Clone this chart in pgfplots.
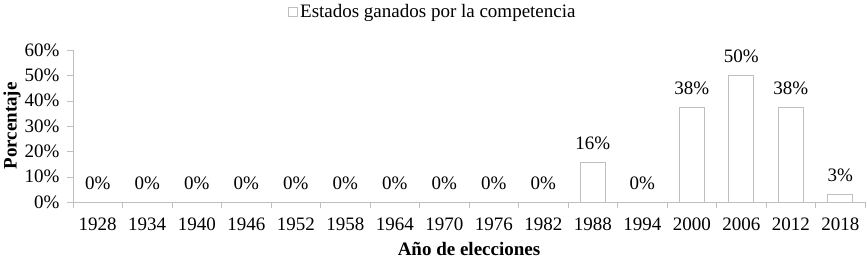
\documentclass[border=0pt]{standalone}
\usepackage{fontspec}
\setmainfont{Liberation Serif}
\usepackage{pgfplots}
\usepackage{pgfplotstable}
\pgfplotsset{compat=1.18}
\definecolor{edge}{RGB}{191,191,191}
\pgfplotstableread{
x y m
0 0 0
1 0 0
2 0 0
3 0 0
4 0 0
5 0 0
6 0 0
7 0 0
8 0 0
9 0 0
10 15.6 16
11 0 0
12 37.5 38
13 50 50
14 37.5 38
15 3.1 3
}\datatable
\begin{document}
\begin{tikzpicture}[font=\fontsize{19}{23}\selectfont]
\begin{axis}[
  scale only axis,
  width=792pt, height=152pt,
  ybar, bar width=25pt,
  xmin=-0.5, xmax=15.5,
  ymin=0, ymax=60,
  axis lines=left,
  axis line style={draw=edge, -},
  xtick={0,...,15},
  xticklabels={1928,1934,1940,1946,1952,1958,1964,1970,1976,1982,1988,1994,2000,2006,2012,2018},
  major x tick style={draw=none},
  minor xtick={-0.5,0.5,...,15.5},
  minor x tick style={draw=edge},
  minor tick length=6pt,
  ytick={0,10,...,60},
  yticklabel={\pgfmathprintnumber{\tick}\%},
  y tick style={draw=edge},
  major tick length=6pt,
  tick align=outside,
  /pgf/number format/assume math mode=true,
  tick label style={font=\fontsize{19}{23}\selectfont},
  label style={font=\fontsize{19}{23}\selectfont\bfseries},
  xticklabel style={anchor=north, yshift=-6pt},
  yticklabel style={anchor=east, xshift=-4pt},
  xlabel={Año de elecciones},
  ylabel={Porcentaje},
  xlabel style={at={(axis description cs:0.5,-0.312)}, anchor=center, inner sep=0pt},
  ylabel style={at={(axis description cs:-0.077,0.5)}, anchor=center, rotate=0},
  point meta=explicit,
  nodes near coords={\pgfmathprintnumber{\pgfplotspointmeta}\%},
  every node near coord/.append style={anchor=base, yshift=12.5pt, inner sep=0pt, text=black, font=\fontsize{19}{23}\selectfont},
  legend style={at={(axis description cs:0.4545,1.25)}, anchor=center, draw=none, fill=none, font=\fontsize{19}{23}\selectfont},
  legend image code/.code={\draw[draw=edge, fill=white] (0pt,-4.5pt) rectangle (9pt,4.5pt);},
]
\addplot[draw=edge, fill=white, line width=0.8pt] table[x=x, y=y, meta=m] {\datatable};
\addlegendentry{Estados ganados por la competencia}
\end{axis}
\pgfresetboundingbox
\useasboundingbox (-73pt,-59pt) rectangle (794pt,202pt);
\end{tikzpicture}
\end{document}
